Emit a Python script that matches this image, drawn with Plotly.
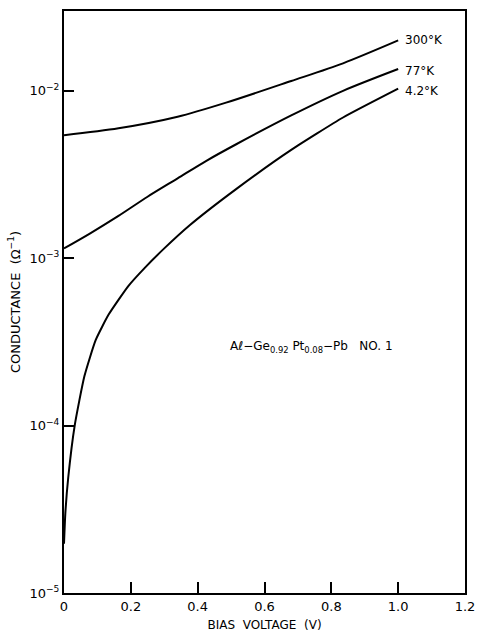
import math
import plotly.graph_objects as go

# Data
v_300 = [0.0, 0.163, 0.34, 0.485, 0.68, 0.835, 1.0]
g_300 = [5.43e-3, 5.97e-3, 7.0e-3, 8.5e-3, 1.145e-2, 1.46e-2, 2.0e-2]

v_77 = [0.0, 0.076, 0.163, 0.25, 0.34, 0.426, 0.514, 0.68, 0.835, 1.0]
g_77 = [1.145e-3, 1.40e-3, 1.79e-3, 2.33e-3, 3.0e-3, 3.82e-3, 4.78e-3, 7.13e-3, 1.0e-2, 1.35e-2]

v_4 = [0.0, 0.004, 0.0126, 0.032, 0.061, 0.095, 0.134, 0.193, 0.241, 0.300, 0.377, 0.514, 0.680, 0.835, 1.0]
g_4 = [1.97e-5, 3.0e-5, 4.88e-5, 1.0e-4, 1.97e-4, 3.25e-4, 4.62e-4, 6.84e-4, 8.73e-4, 1.145e-3, 1.58e-3, 2.58e-3, 4.44e-3, 6.93e-3, 1.03e-2]

x_ticks = [0, 0.2, 0.4, 0.6, 0.8, 1.0, 1.2]
x_tick_text = ["0", "0.2", "0.4", "0.6", "0.8", "1.0", "1.2"]
y_ticks = [1e-5, 1e-4, 1e-3, 1e-2]
y_tick_text = ["10<sup>−5</sup>", "10<sup>−4</sup>", "10<sup>−3</sup>", "10<sup>−2</sup>"]

curve_labels = ["300°K", "77°K", "4.2°K"]
label_y = [2.0e-2, 1.32e-2, 1.0e-2]

sample_text = "Aℓ−Ge<sub>0.92</sub> Pt<sub>0.08</sub>−Pb   NO. 1"
sample_pos = (0.49, 2.95e-4)

FONT = "DejaVu Sans"

fig = go.Figure()
for vx, gy, sm in [(v_300, g_300, 0.8), (v_77, g_77, 0.8), (v_4, g_4, 0.5)]:
    fig.add_trace(go.Scatter(x=vx, y=gy, mode="lines",
                             line=dict(color="black", width=2, shape="spline", smoothing=sm),
                             showlegend=False, hoverinfo="skip"))

for txt, yy in zip(curve_labels, label_y):
    fig.add_annotation(x=1.015, y=math.log10(yy), yref="y", xref="x", text=txt, showarrow=False,
                       xanchor="left", yanchor="middle",
                       font=dict(family=FONT, size=12, color="black"))

fig.add_annotation(x=sample_pos[0], y=math.log10(sample_pos[1]), text=sample_text,
                   showarrow=False, xanchor="left", yanchor="middle",
                   font=dict(family=FONT, size=12, color="black"))

fig.update_xaxes(range=[0, 1.2], tickvals=x_ticks, ticktext=x_tick_text,
                 ticks="inside", ticklen=11, tickwidth=1.5, tickcolor="black",
                 showline=True, linecolor="black", linewidth=2, mirror=True,
                 showgrid=False, zeroline=False,
                 tickfont=dict(family=FONT, size=13, color="black"),
                 title=dict(text="BIAS  VOLTAGE  (V)", standoff=8,
                            font=dict(family=FONT, size=12, color="black")))
fig.update_yaxes(type="log", range=[-5, -1.523], tickvals=y_ticks, ticktext=y_tick_text,
                 ticks="inside", ticklen=10, tickwidth=1.5, tickcolor="black",
                 showline=True, linecolor="black", linewidth=2, mirror=True,
                 showgrid=False, zeroline=False,
                 tickfont=dict(family=FONT, size=13, color="black"),
                 title=dict(text="CONDUCTANCE  (Ω<sup>−1</sup>)", standoff=6,
                            font=dict(family=FONT, size=13, color="black")))

fig.update_layout(width=484, height=639, margin=dict(l=64, r=9, t=9, b=39),
                  paper_bgcolor="white", plot_bgcolor="white",
                  font=dict(family=FONT, color="black"))

fig.write_html("out.html")
